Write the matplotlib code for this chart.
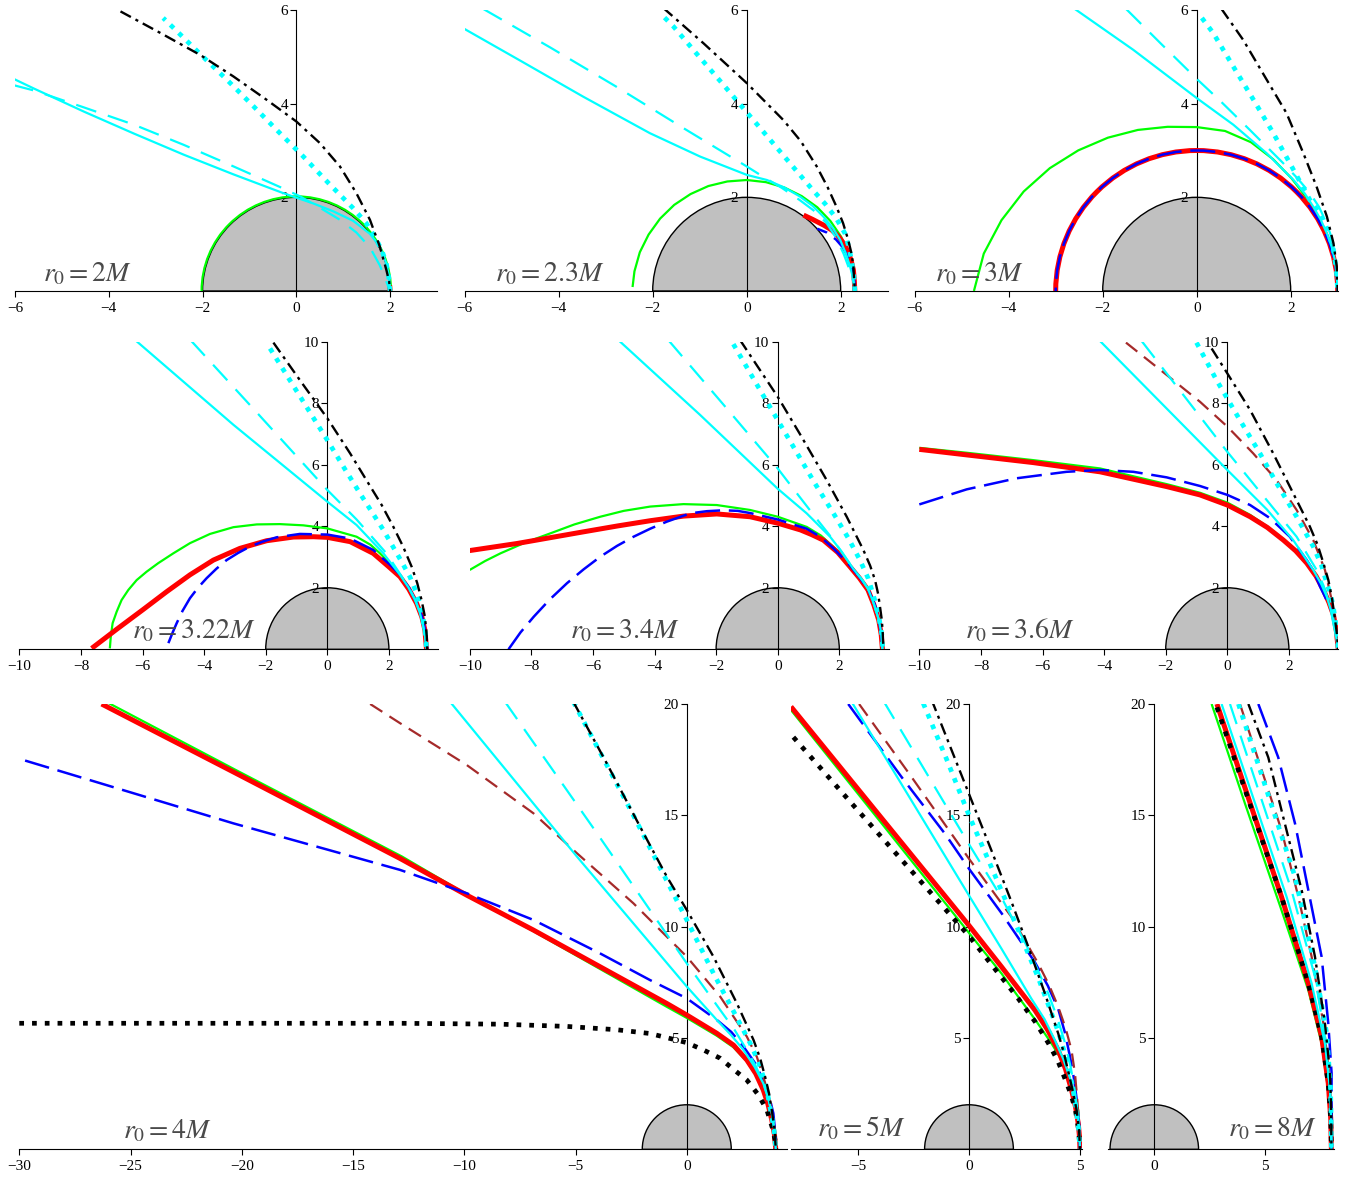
import numpy as np
import matplotlib
matplotlib.use("Agg")
import matplotlib.pyplot as plt
from matplotlib.patches import Wedge, Arc

plt.rcParams["mathtext.fontset"] = "stix"
plt.rcParams["font.family"] = ["Liberation Serif", "DejaVu Serif"]

W, H = 1361, 1180

# ---------------------------------------------------------------------------
# Orbit data: each curve is (x list, y list) in units of M.
# Near-circular curves are given in polar form (angle in degrees, radius);
# exact circles only by their radius.
# ---------------------------------------------------------------------------
PHI10 = [0, 10, 20, 30, 40, 50, 60, 70, 80, 90, 100, 110, 120, 130, 140, 150, 160, 170, 180]
PHI10_P2 = [0, 10, 20, 30, 40, 50, 60, 70, 80, 90, 100, 110, 120, 130, 140, 150, 160, 170, 178]

# r0 = 2M
p1_green_radius = 2.02
p1_red = ([2.0, 1.99], [0.0, 0.12])
p1_cyan = ([-6.05, -5.59, -4.53, -3.46, -2.40, -1.34, -0.28, 0.36, 0.79, 1.21, 1.57, 1.78, 1.92, 1.98, 2.0],
           [4.54, 4.32, 3.83, 3.36, 2.91, 2.49, 2.09, 1.87, 1.70, 1.50, 1.22, 0.95, 0.59, 0.30, 0.0])
p1_cyan_dash = ([-6.05, -5.59, -4.53, -3.46, -2.40, -1.34, -0.28, 0.08, 0.50, 0.93, 1.28, 1.57, 1.78, 1.92, 2.0],
                [4.40, 4.28, 3.92, 3.55, 3.12, 2.66, 2.19, 2.02, 1.78, 1.52, 1.25, 0.93, 0.55, 0.20, 0.0])
p1_cyan_dot = ([2.0, 1.97, 1.92, 1.83, 1.71, 1.49, 1.21, 0.68, 0.15, -0.38, -0.91, -1.46, -2.01, -2.56, -2.84],
               [0.0, 0.30, 0.59, 0.85, 1.09, 1.45, 1.77, 2.31, 2.87, 3.40, 3.94, 4.49, 5.02, 5.56, 5.83])
p1_black_dd = ([-3.75, -2.90, -2.05, -1.34, -0.63, 0.0, 0.50, 0.93, 1.28, 1.57, 1.78, 1.92, 1.98, 2.0],
               [5.97, 5.51, 5.04, 4.58, 4.08, 3.62, 3.16, 2.66, 2.09, 1.52, 0.95, 0.45, 0.20, 0.0])

# r0 = 2.3M
p2_green_r = [2.30, 2.305, 2.31, 2.32, 2.325, 2.335, 2.34, 2.35, 2.36, 2.37,
              2.375, 2.385, 2.39, 2.40, 2.405, 2.41, 2.42, 2.425, 2.43]
p2_red = ([2.30, 2.29, 2.27, 2.22, 2.15, 2.06, 1.95, 1.81, 1.65, 1.40, 1.21],
          [0.0, 0.22, 0.45, 0.66, 0.85, 1.02, 1.17, 1.30, 1.40, 1.53, 1.62])
p2_blue = ([2.30, 2.29, 2.26, 2.20, 2.12, 2.02, 1.90, 1.70, 1.50],
           [0.0, 0.20, 0.40, 0.61, 0.80, 0.96, 1.10, 1.25, 1.33])
p2_cyan = ([-6.03, -4.75, -3.48, -2.06, -0.99, 0.0, 0.43, 0.80, 1.13, 1.40, 1.63, 1.83, 1.99, 2.11, 2.20, 2.27, 2.30],
           [5.61, 4.88, 4.15, 3.37, 2.87, 2.48, 2.37, 2.21, 2.02, 1.82, 1.59, 1.35, 1.09, 0.80, 0.52, 0.25, 0.0])
p2_cyan_dash = ([-5.60, -4.18, -2.77, -1.35, 0.0, 0.35, 0.75, 1.13, 1.45, 1.70, 1.90, 2.06, 2.19, 2.27, 2.30],
                [6.02, 5.20, 4.36, 3.48, 2.66, 2.44, 2.20, 1.94, 1.70, 1.45, 1.14, 0.80, 0.45, 0.20, 0.0])
p2_cyan_dot = ([2.30, 2.28, 2.23, 2.17, 2.09, 1.90, 1.67, 1.42, 0.92, 0.43, -0.07, -0.57, -1.06, -1.56, -1.84],
               [0.0, 0.33, 0.66, 0.95, 1.23, 1.56, 1.86, 2.14, 2.73, 3.31, 3.90, 4.49, 5.06, 5.65, 5.93])
p2_black_dd = ([-1.77, -0.92, 0.0, 0.78, 1.15, 1.49, 1.72, 1.91, 2.05, 2.16, 2.23, 2.27, 2.30],
               [6.04, 5.29, 4.44, 3.65, 3.20, 2.66, 2.22, 1.80, 1.45, 1.09, 0.80, 0.52, 0.0])

# r0 = 3M
p3_circle_radius = 3.0
p3_green_r = [3.00, 3.00, 3.01, 3.03, 3.07, 3.14, 3.25, 3.38, 3.47, 3.50,
              3.56, 3.66, 3.78, 3.92, 4.08, 4.25, 4.42, 4.60, 4.74]
p3_cyan = ([-2.59, -1.35, 0.0, 0.78, 1.49, 2.06, 2.30, 2.48, 2.64, 2.77, 2.87, 2.94, 2.98, 3.0],
           [6.02, 5.15, 4.12, 3.55, 2.94, 2.37, 2.08, 1.80, 1.52, 1.23, 0.95, 0.66, 0.33, 0.0])
p3_cyan_dash = ([-1.50, -0.75, 0.0, 0.50, 1.13, 1.84, 2.15, 2.41, 2.60, 2.73, 2.84, 2.91, 2.97, 3.0],
                [6.02, 5.27, 4.53, 4.06, 3.44, 2.73, 2.40, 2.09, 1.80, 1.52, 1.23, 0.95, 0.50, 0.0])
p3_cyan_dot = ([0.11, 0.35, 0.78, 1.21, 1.63, 2.02, 2.41, 2.57, 2.70, 2.82, 2.91, 2.97, 3.0],
               [5.83, 5.51, 4.79, 4.08, 3.37, 2.66, 1.94, 1.73, 1.52, 1.20, 0.88, 0.45, 0.0])
p3_black_dd = ([0.53, 0.99, 1.49, 1.91, 2.27, 2.55, 2.77, 2.91, 2.98, 3.0],
               [6.02, 5.36, 4.51, 3.80, 2.94, 2.23, 1.59, 1.02, 0.52, 0.0])

# r0 = 3.22M
p4_green = ([-7.06, -7.03, -6.97, -6.84, -6.68, -6.46, -6.19, -5.87, -5.49, -5.00, -4.46, -3.81, -3.05,
             -2.29, -1.54, -0.78, 0.0, 0.95, 1.40, 1.71, 2.00, 2.25, 2.60, 2.90, 3.10, 3.18, 3.22],
            [0.03, 0.41, 0.85, 1.22, 1.60, 1.93, 2.25, 2.52, 2.80, 3.12, 3.45, 3.75, 3.97,
             4.06, 4.07, 4.03, 3.93, 3.66, 3.40, 3.12, 2.82, 2.47, 2.05, 1.50, 0.85, 0.42, 0.0])
p4_red = ([-7.65, -6.84, -5.97, -5.22, -4.46, -3.70, -2.84, -1.97, -1.10, -0.45, 0.0, 0.74, 1.49, 2.0, 2.36,
           2.65, 2.90, 3.07, 3.17, 3.22],
          [0.03, 0.65, 1.30, 1.87, 2.42, 2.90, 3.28, 3.53, 3.65, 3.66, 3.64, 3.50, 3.12, 2.68, 2.36,
           1.95, 1.49, 1.05, 0.62, 0.0])
p4_blue = ([-5.16, -5.02, -4.89, -4.70, -4.46, -4.20, -3.92, -3.60, -3.27, -2.90, -2.51, -2.10, -1.65, -0.89,
            0.0, 0.74, 1.49, 2.0, 2.36, 2.65, 2.90, 3.08, 3.17, 3.24],
           [0.20, 0.55, 0.85, 1.25, 1.66, 2.00, 2.31, 2.62, 2.90, 3.13, 3.34, 3.50, 3.64, 3.75,
            3.73, 3.60, 3.23, 2.78, 2.43, 2.00, 1.52, 1.05, 0.65, 0.0])
p4_cyan = ([-6.21, -3.05, 0.0, 0.95, 1.82, 2.36, 2.63, 2.85, 3.00, 3.10, 3.18, 3.22],
           [10.03, 7.30, 4.80, 4.04, 3.12, 2.42, 2.02, 1.60, 1.20, 0.80, 0.40, 0.0])
p4_cyan_dash = ([-4.44, -2.2, 0.0, 0.95, 1.92, 2.36, 2.63, 2.85, 3.00, 3.10, 3.18, 3.22],
                [10.05, 7.6, 5.18, 4.22, 3.12, 2.45, 2.04, 1.62, 1.22, 0.82, 0.40, 0.0])
p4_cyan_dot = ([-1.86, -0.93, 0.0, 0.52, 1.06, 1.82, 2.41, 2.68, 2.90, 3.03, 3.12, 3.19, 3.22],
               [9.78, 8.29, 6.80, 5.94, 5.07, 3.88, 2.85, 2.36, 1.82, 1.40, 0.95, 0.48, 0.0])
p4_black_dd = ([-1.75, -0.89, 0.0, 0.74, 1.30, 1.76, 2.14, 2.46, 2.74, 2.92, 3.06, 3.17, 3.23, 3.24],
               [9.97, 8.75, 7.51, 6.37, 5.45, 4.70, 3.99, 3.34, 2.68, 2.15, 1.60, 1.05, 0.40, 0.0])

# r0 = 3.4M
p5_green = ([-10.0, -9.5, -9.0, -8.2, -7.38, -6.6, -5.76, -5.0, -4.14, -3.06, -1.98, -0.90, 0.0, 0.94, 1.40,
             1.81, 2.35, 2.65, 2.93, 3.15, 3.28, 3.36, 3.40],
            [2.58, 2.87, 3.12, 3.47, 3.77, 4.06, 4.31, 4.50, 4.64, 4.72, 4.69, 4.53, 4.31, 3.98, 3.70,
             3.33, 2.72, 2.34, 1.95, 1.45, 0.96, 0.48, 0.0])
p5_red = ([-10.0, -8.46, -6.30, -5.2, -4.14, -3.06, -1.98, -0.90, 0.0, 0.74, 1.10, 1.48, 1.95, 2.35, 2.65,
           2.93, 3.12, 3.28, 3.36, 3.40],
          [3.21, 3.44, 3.82, 4.01, 4.18, 4.33, 4.40, 4.31, 4.10, 3.88, 3.73, 3.55, 3.15, 2.68, 2.32,
           1.93, 1.45, 0.95, 0.48, 0.0])
p5_blue = ([-8.74, -8.35, -7.92, -7.40, -6.84, -6.30, -5.76, -5.22, -4.68, -4.14, -3.60, -2.84, -2.30, -1.76,
            -1.30, -0.90, 0.0, 0.94, 1.40, 1.81, 2.35, 2.65, 2.93, 3.15, 3.28, 3.36, 3.40],
           [0.0, 0.55, 1.06, 1.62, 2.15, 2.60, 3.01, 3.36, 3.66, 3.92, 4.15, 4.42, 4.49, 4.52,
            4.50, 4.43, 4.22, 3.92, 3.65, 3.28, 2.72, 2.35, 1.96, 1.46, 0.97, 0.48, 0.0])
p5_cyan = ([-5.17, -2.52, 0.0, 0.94, 1.70, 2.08, 2.45, 2.72, 2.93, 3.12, 3.28, 3.37, 3.40],
           [10.05, 7.62, 5.22, 4.42, 3.66, 3.17, 2.62, 2.28, 1.97, 1.48, 0.97, 0.48, 0.0])
p5_cyan_dash = ([-3.55, -1.8, 0.0, 0.29, 1.21, 1.81, 2.13, 2.50, 2.75, 2.93, 3.12, 3.28, 3.37, 3.40],
                [10.05, 8.0, 5.88, 5.50, 4.31, 3.55, 3.08, 2.55, 2.25, 1.97, 1.48, 0.97, 0.48, 0.0])
p5_cyan_dot = ([-1.44, -0.72, 0.0, 0.6, 1.21, 1.81, 2.30, 2.67, 2.94, 3.15, 3.30, 3.38, 3.41],
               [9.92, 8.68, 7.45, 6.43, 5.39, 4.42, 3.60, 2.90, 2.30, 1.60, 0.95, 0.48, 0.0])
p5_black_dd = ([-1.22, 0.0, 0.72, 1.59, 2.24, 2.78, 3.00, 3.16, 3.26, 3.32, 3.38, 3.41, 3.43],
               [10.05, 8.21, 7.0, 5.50, 4.31, 3.23, 2.72, 2.25, 1.80, 1.39, 0.95, 0.52, 0.0])

# r0 = 3.6M
p6_green = ([-10.0, -8.46, -6.30, -4.13, -1.97, -0.89, 0.0, 0.74, 1.30, 1.82, 2.22, 2.58, 2.88, 3.12, 3.30,
             3.45, 3.54, 3.6],
            [6.55, 6.39, 6.15, 5.88, 5.37, 5.09, 4.77, 4.37, 3.99, 3.58, 3.22, 2.82, 2.40, 1.94, 1.53,
             1.10, 0.60, 0.0])
p6_red = ([-10.0, -8.46, -6.30, -4.13, -1.97, -0.89, 0.0, 0.74, 1.30, 1.82, 2.22, 2.58, 2.88, 3.12, 3.30,
           3.45, 3.54, 3.6],
          [6.50, 6.32, 6.07, 5.77, 5.29, 5.02, 4.69, 4.31, 3.96, 3.55, 3.20, 2.80, 2.38, 1.93, 1.52,
           1.10, 0.60, 0.0])
p6_blue = ([-10.0, -8.46, -6.84, -5.22, -4.13, -3.05, -1.97, -0.89, 0.0, 0.74, 1.39, 2.03, 2.58, 2.82, 3.01,
            3.25, 3.42, 3.53, 3.6],
           [4.71, 5.20, 5.56, 5.77, 5.83, 5.77, 5.59, 5.31, 5.02, 4.69, 4.26, 3.66, 2.90, 2.50, 2.04,
            1.55, 1.17, 0.60, 0.0])
p6_brown = ([-3.29, -1.97, -0.89, 0.0, 0.84, 1.60, 2.25, 2.79, 3.17, 3.39, 3.52, 3.6],
            [9.97, 8.92, 8.05, 7.24, 6.37, 5.50, 4.53, 3.55, 2.58, 1.60, 0.80, 0.0])
p6_cyan = ([-4.13, 0.0, 1.28, 2.14, 2.79, 3.05, 3.23, 3.36, 3.44, 3.53, 3.6],
           [10.02, 5.83, 4.55, 3.55, 2.58, 2.12, 1.71, 1.28, 0.85, 0.42, 0.0])
p6_cyan_dash = ([-2.78, 0.0, 1.28, 2.25, 2.90, 3.12, 3.28, 3.40, 3.5, 3.56, 3.6],
                [10.02, 6.42, 4.85, 3.66, 2.58, 2.08, 1.60, 1.15, 0.74, 0.37, 0.0])
p6_cyan_dot = ([-1.0, -0.35, 0.41, 1.06, 1.60, 2.25, 2.79, 3.05, 3.23, 3.36, 3.44, 3.54, 3.6],
               [9.97, 8.75, 7.45, 6.37, 5.40, 4.31, 3.34, 2.75, 2.15, 1.75, 1.39, 0.70, 0.0])
p6_black_dd = ([-0.51, 0.0, 0.74, 1.49, 2.14, 2.68, 2.93, 3.12, 3.28, 3.39, 3.5, 3.56, 3.6],
               [9.78, 8.97, 7.78, 6.37, 5.07, 3.99, 3.40, 2.80, 2.25, 1.71, 0.95, 0.48, 0.0])

# r0 = 4M
p7_green = ([-26.0, -20.2, -12.8, -9.9, -6.9, -3.9, -0.9, 0.0, 1.35, 2.10, 2.7, 3.10, 3.44, 3.65, 3.82, 3.94, 4.0],
            [20.05, 17.0, 13.15, 11.45, 9.8, 8.1, 6.4, 5.9, 5.1, 4.58, 3.95, 3.35, 2.62, 2.0, 1.3, 0.65, 0.0])
p7_red = ([-26.3, -20.4, -12.9, -9.9, -6.9, -3.9, -0.9, 0.0, 1.35, 2.10, 2.7, 3.10, 3.44, 3.65, 3.82, 3.94, 4.0],
          [20.0, 16.96, 13.07, 11.42, 9.85, 8.2, 6.55, 6.03, 5.21, 4.68, 4.01, 3.40, 2.66, 2.02, 1.32, 0.66, 0.0])
p7_black_dot = ([-30.0, -12.9, -8.4, -5.4, -3.15, -1.65, 0.0, 0.75, 1.5, 2.1, 2.7, 3.22, 3.6, 3.85, 3.96, 4.0],
                [5.66, 5.66, 5.62, 5.52, 5.37, 5.2, 4.79, 4.46, 4.09, 3.59, 3.11, 2.44, 1.77, 0.95, 0.45, 0.0])
p7_blue = ([-29.74, -20.38, -12.89, -9.89, -6.89, -3.9, -1.65, 0.0, 1.35, 2.00, 2.55, 3.05, 3.44, 3.70, 3.89, 3.97, 4.0],
           [17.46, 14.64, 12.55, 11.5, 10.3, 8.8, 7.6, 6.78, 5.81, 5.27, 4.61, 3.90, 3.11, 2.40, 1.62, 0.80, 0.0])
p7_brown = ([-14.23, -12.89, -9.89, -6.89, -4.94, -2.4, 0.0, 1.5, 2.7, 3.15, 3.44, 3.66, 3.82, 3.95, 4.0],
            [20.0, 19.14, 17.26, 15.09, 13.3, 11.05, 8.65, 6.86, 5.06, 4.15, 3.26, 2.50, 1.77, 0.85, 0.0])
p7_cyan = ([-10.64, -4.94, 0.0, 1.35, 2.0, 2.55, 3.05, 3.44, 3.66, 3.82, 3.95, 4.0],
           [20.1, 13.15, 7.31, 5.81, 5.12, 4.46, 3.70, 2.96, 2.30, 1.62, 0.80, 0.0])
p7_cyan_dash = ([-8.17, -4.04, 0.0, 1.5, 2.15, 2.7, 3.12, 3.44, 3.66, 3.82, 3.95, 4.0],
                [20.1, 14.2, 8.35, 6.26, 5.36, 4.46, 3.70, 2.96, 2.30, 1.62, 0.80, 0.0])
p7_cyan_dot = ([-5.1, -2.4, 0.0, 1.2, 2.1, 2.85, 3.20, 3.44, 3.62, 3.74, 3.92, 4.0],
               [20.1, 15.0, 10.3, 7.9, 6.2, 4.76, 3.98, 3.26, 2.55, 1.89, 0.90, 0.0])
p7_black_dd = ([-5.1, -3.6, -2.1, -0.9, 0.0, 1.2, 2.25, 3.0, 3.30, 3.52, 3.70, 3.82, 3.95, 4.0],
               [20.1, 17.34, 14.49, 12.25, 10.75, 8.65, 6.56, 4.91, 4.08, 3.26, 2.50, 1.77, 0.85, 0.0])

# r0 = 5M
p8_green = ([-8.06, -4.0, 0.0, 1.47, 2.22, 3.00, 3.72, 4.15, 4.47, 4.72, 4.92, 5.0],
            [19.78, 14.72, 9.72, 7.89, 6.85, 5.80, 4.75, 4.05, 3.41, 2.60, 1.76, 0.0])
p8_red = ([-8.02, -4.0, 0.0, 1.47, 2.97, 3.55, 4.02, 4.35, 4.62, 4.80, 4.92, 4.98, 5.0],
          [19.88, 14.95, 10.05, 8.19, 6.25, 5.35, 4.45, 3.60, 2.66, 1.90, 1.17, 0.55, 0.0])
p8_black_dot = ([-7.91, -5.2, -2.51, 0.0, 2.22, 3.00, 3.57, 4.00, 4.29, 4.60, 4.80, 4.94, 5.0],
                [18.51, 15.44, 12.41, 9.58, 6.77, 5.70, 4.78, 3.98, 3.26, 2.45, 1.73, 0.85, 0.0])
p8_blue = ([-5.44, -3.03, -1.08, 0.0, 1.47, 2.97, 3.55, 4.02, 4.32, 4.55, 4.75, 4.88, 4.97, 5.0],
           [20.0, 16.71, 14.17, 12.6, 10.6, 8.4, 7.35, 6.3, 5.25, 4.16, 3.05, 2.0, 1.0, 0.0])
p8_brown = ([-4.95, -2.58, 0.0, 1.92, 3.12, 3.62, 4.02, 4.35, 4.62, 4.78, 4.88, 4.96, 5.0],
            [20.0, 16.71, 13.05, 10.43, 8.34, 7.35, 6.40, 5.45, 4.45, 3.35, 2.21, 1.10, 0.0])
p8_cyan = ([-5.32, 0.0, 1.47, 2.82, 3.40, 3.87, 4.25, 4.55, 4.77, 4.90, 4.97, 5.0],
           [20.15, 11.4, 9.0, 6.75, 5.85, 4.9, 4.05, 3.2, 2.40, 1.6, 0.80, 0.0])
p8_cyan_dash = ([-3.86, -0.78, 0.0, 1.47, 2.67, 3.57, 3.98, 4.32, 4.58, 4.77, 4.92, 5.0],
                [20.15, 15.0, 13.7, 11.3, 9.0, 7.0, 5.90, 4.8, 3.70, 2.6, 1.30, 0.0])
p8_cyan_dot = ([-2.06, -1.0, 0.0, 0.87, 1.62, 2.37, 3.12, 3.72, 4.05, 4.32, 4.58, 4.77, 4.92, 5.0],
               [20.03, 17.5, 15.0, 13.0, 11.25, 9.5, 7.7, 6.1, 5.20, 4.3, 3.25, 2.2, 1.10, 0.0])
p8_black_dd = ([-1.68, 0.0, 1.02, 1.92, 2.67, 3.42, 4.02, 4.27, 4.47, 4.68, 4.85, 4.96, 5.0],
               [20.18, 15.96, 13.4, 11.1, 9.1, 7.0, 5.2, 4.35, 3.5, 2.60, 1.75, 0.85, 0.0])

# r0 = 8M
p9_green = ([2.59, 4.10, 5.75, 6.96, 7.56, 7.86, 7.97, 8.0], [20.0, 15.52, 10.73, 7.14, 4.75, 2.66, 1.30, 0.0])
p9_red = ([2.83, 5.75, 6.96, 7.56, 7.86, 7.97, 8.0], [20.0, 11.33, 7.44, 5.05, 2.96, 1.40, 0.0])
p9_black_dot = ([2.83, 5.75, 6.96, 7.56, 7.86, 7.97, 8.0], [19.85, 11.33, 7.44, 5.05, 2.96, 1.40, 0.0])
p9_blue = ([4.70, 5.60, 6.36, 6.96, 7.56, 7.86, 8.01, 8.0], [20.0, 17.6, 14.62, 11.63, 8.64, 5.65, 3.41, 0.0])
p9_brown = ([3.87, 5.75, 6.51, 7.11, 7.64, 7.90, 7.98, 8.0], [20.0, 14.32, 11.33, 8.64, 5.65, 3.41, 1.70, 0.0])
p9_cyan = ([3.04, 5.98, 7.11, 7.71, 7.94, 7.99, 8.0], [20.0, 11.33, 7.44, 4.75, 2.66, 1.30, 0.0])
p9_cyan_dash = ([3.42, 6.20, 7.26, 7.71, 7.94, 7.99, 8.0], [20.0, 11.63, 7.74, 5.05, 2.66, 1.30, 0.0])
p9_cyan_dot = ([3.80, 6.36, 7.26, 7.79, 7.96, 7.99, 8.0], [20.0, 12.23, 8.19, 5.20, 2.8, 1.40, 0.0])
p9_black_dd = ([4.25, 5.15, 5.90, 6.66, 7.26, 7.71, 7.94, 7.99, 8.0],
               [20.0, 17.6, 14.62, 11.63, 8.64, 5.65, 3.41, 1.70, 0.0])

LABELS = ["2", "2.3", "3", "3.22", "3.4", "3.6", "4", "5", "8"]
HORIZON_RADIUS = 2.0

# ---------------------------------------------------------------------------
STYLES = {
    "green": dict(color="#00ff00", lw=1.6),
    "red": dict(color="#ff0000", lw=3.6),
    "black_dot": dict(color="black", lw=3.4, dashes=(1.0, 1.7)),
    "blue": dict(color="#0000ff", lw=1.8, dashes=(10, 3.5)),
    "brown": dict(color="#a52a2a", lw=1.6, dashes=(6.5, 3.8)),
    "cyan": dict(color="#00ffff", lw=1.6),
    "cyan_dash": dict(color="#00ffff", lw=1.6, dashes=(9.5, 5.5)),
    "cyan_dot": dict(color="#00ffff", lw=3.4, dashes=(1.0, 1.45)),
    "black_dd": dict(color="black", lw=1.7, dashes=(5.0, 2.2, 1.3, 2.2)),
}


def polar_xy(phi_deg, r):
    phi = np.radians(phi_deg)
    r = np.asarray(r, dtype=float)
    return r * np.cos(phi), r * np.sin(phi)


def draw_curve(ax, style, data):
    kw = dict(STYLES[style])
    dashes = kw.pop("dashes", None)
    if isinstance(data, float):
        # an exact circle of the given radius (upper half)
        art = Arc((0, 0), 2 * data, 2 * data, theta1=0, theta2=180,
                  color=kw["color"], lw=kw["lw"], zorder=2, capstyle="butt")
        if dashes is not None:
            art.set_linestyle((0, dashes))
        ax.add_patch(art)
        return
    xs, ys = data
    line, = ax.plot(xs, ys, zorder=2, solid_capstyle="butt", solid_joinstyle="round", **kw)
    if dashes is not None:
        line.set_dashes(dashes)
        line.set_dash_capstyle("butt")


row1 = dict(xlim=(-6, 3), ylim=(0, 6), xticks=[-6, -4, -2, 0, 2], yticks=[2, 4, 6])
row2 = dict(xlim=(-10, 3.6), ylim=(0, 10), xticks=[-10, -8, -6, -4, -2, 0, 2], yticks=[2, 4, 6, 8, 10])
row3 = dict(ylim=(0, 20), yticks=[5, 10, 15, 20])

panels = [
    dict(box=(15.0, 437.0, 291.0, 10.0), **row1, label_xy=(-5.40, 0.21),
         curves=[("green", p1_green_radius), ("red", p1_red), ("cyan", p1_cyan),
                 ("cyan_dash", p1_cyan_dash), ("cyan_dot", p1_cyan_dot), ("black_dd", p1_black_dd)]),
    dict(box=(464.7, 887.7, 291.0, 10.0), **row1, label_xy=(-5.35, 0.21),
         curves=[("green", polar_xy(PHI10_P2, p2_green_r)), ("red", p2_red), ("blue", p2_blue),
                 ("cyan", p2_cyan), ("cyan_dash", p2_cyan_dash), ("cyan_dot", p2_cyan_dot),
                 ("black_dd", p2_black_dd)]),
    dict(box=(914.7, 1337.7, 291.0, 10.0), **row1, label_xy=(-5.57, 0.21),
         curves=[("green", polar_xy(PHI10, p3_green_r)), ("red", p3_circle_radius), ("blue", p3_circle_radius),
                 ("cyan", p3_cyan), ("cyan_dash", p3_cyan_dash), ("cyan_dot", p3_cyan_dot),
                 ("black_dd", p3_black_dd)]),
    dict(box=(19.3, 438.2, 649.3, 341.7), **row2, label_xy=(-6.35, 0.36),
         curves=[("green", p4_green), ("red", p4_red), ("blue", p4_blue), ("cyan", p4_cyan),
                 ("cyan_dash", p4_cyan_dash), ("cyan_dot", p4_cyan_dot), ("black_dd", p4_black_dd)]),
    dict(box=(469.7, 888.6, 649.3, 341.7), **row2, label_xy=(-6.74, 0.36),
         curves=[("green", p5_green), ("red", p5_red), ("blue", p5_blue), ("cyan", p5_cyan),
                 ("cyan_dash", p5_cyan_dash), ("cyan_dot", p5_cyan_dot), ("black_dd", p5_black_dd)]),
    dict(box=(919.3, 1338.2, 649.3, 341.7), **row2, label_xy=(-8.52, 0.36),
         curves=[("green", p6_green), ("red", p6_red), ("blue", p6_blue), ("brown", p6_brown),
                 ("cyan", p6_cyan), ("cyan_dash", p6_cyan_dash), ("cyan_dot", p6_cyan_dot),
                 ("black_dd", p6_black_dd)]),
    dict(box=(19.3, 786.9, 1149.3, 704.0), xlim=(-30, 4.5), xticks=[-30, -25, -20, -15, -10, -5, 0],
         **row3, label_xy=(-25.33, 0.51),
         curves=[("green", p7_green), ("red", p7_red), ("black_dot", p7_black_dot), ("blue", p7_blue),
                 ("brown", p7_brown), ("cyan", p7_cyan), ("cyan_dash", p7_cyan_dash),
                 ("cyan_dot", p7_cyan_dot), ("black_dd", p7_black_dd)]),
    dict(box=(791.4, 1082.2, 1149.3, 704.0), xlim=(-8, 5.1), xticks=[-5, 0, 5],
         **row3, label_xy=(-6.86, 0.57),
         curves=[("green", p8_green), ("red", p8_red), ("black_dot", p8_black_dot), ("blue", p8_blue),
                 ("brown", p8_brown), ("cyan", p8_cyan), ("cyan_dash", p8_cyan_dash),
                 ("cyan_dot", p8_cyan_dot), ("black_dd", p8_black_dd)]),
    dict(box=(1107.8, 1333.6, 1149.3, 704.0), xlim=(-2.1, 8.1), xticks=[0, 5],
         **row3, label_xy=(3.33, 0.57),
         curves=[("green", p9_green), ("red", p9_red), ("black_dot", p9_black_dot), ("blue", p9_blue),
                 ("brown", p9_brown), ("cyan", p9_cyan), ("cyan_dash", p9_cyan_dash),
                 ("cyan_dot", p9_cyan_dot), ("black_dd", p9_black_dd)]),
]

fig = plt.figure(figsize=(W / 100, H / 100), dpi=100)

for spec, r0_text in zip(panels, LABELS):
    left, right, bottom, top = spec["box"]
    ax = fig.add_axes([left / W, 1 - bottom / H, (right - left) / W, (bottom - top) / H])
    ax.set_xlim(*spec["xlim"])
    ax.set_ylim(*spec["ylim"])
    ax.patch.set_visible(False)

    for side in ("top", "right"):
        ax.spines[side].set_visible(False)
    ax.spines["left"].set_position(("data", 0))
    for side in ("left", "bottom"):
        ax.spines[side].set_linewidth(0.8)
        ax.spines[side].set_zorder(1.5)

    ax.set_xticks(spec["xticks"])
    ax.set_yticks(spec["yticks"])
    ax.tick_params(direction="out", length=4, width=0.8, labelsize=11, pad=2)
    ax.tick_params(axis="x", pad=4)

    # black hole (horizon disc)
    ax.add_patch(Wedge((0, 0), HORIZON_RADIUS, 0, 180, facecolor="#c0c0c0",
                       edgecolor="black", lw=1.0, zorder=1))

    for style, data in spec["curves"]:
        draw_curve(ax, style, data)

    lx, ly = spec["label_xy"]
    ax.text(lx, ly, r"$r_0=" + r0_text + r"M$", fontsize=20, color="#4a4a4a",
            ha="left", va="baseline", zorder=5)

fig.savefig("out.png", dpi=100)
